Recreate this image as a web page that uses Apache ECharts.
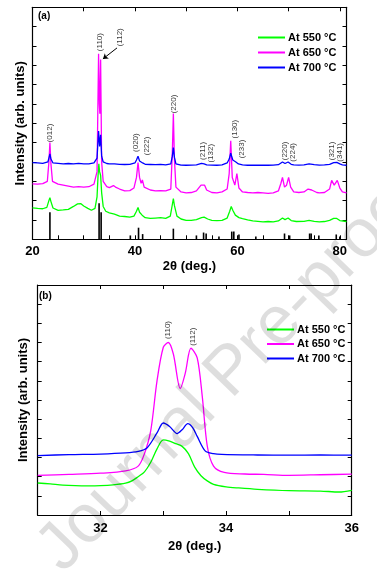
<!DOCTYPE html>
<html>
<head>
<meta charset="utf-8">
<script src="https://cdn.jsdelivr.net/npm/echarts@6/dist/echarts.min.js"></script>
<style>
    html, body { margin: 0; padding: 0; background: #fff; }
    #xrd { width: 377px; height: 571px; }
</style>
</head>
<body>
<div id="xrd"></div>
<script>
// legend names / colours
var sampleNames = ['At 550 °C', 'At 650 °C', 'At 700 °C'];
var sampleColors = ['#00ff00', '#ff00ff', '#0000ff'];

// (a) full pattern, [2theta, intensity] in arb. units (offset stacked)
var full550 = [[20,1.63],[21,1.6],[22,1.58],[22.8,1.65],[23.2,2.0],[23.4,2.15],[23.6,1.95],[24,1.62],[25,1.5],[26,1.52],[27,1.55],[28,1.7],[28.8,1.83],[29.4,1.85],[30,1.72],[30.8,1.6],[31.5,1.5],[32.2,1.6],[32.6,2.2],[32.8,3.3],[32.95,3.9],[33.1,3.5],[33.3,3.3],[33.5,2.4],[33.8,1.7],[34.3,1.45],[35,1.37],[36,1.3],[37,1.2],[38,1.18],[39,1.15],[39.8,1.2],[40.3,1.45],[40.6,1.65],[40.9,1.4],[41.4,1.25],[42,1.12],[43,1.08],[44,1.1],[45,1.12],[46,1.08],[46.9,1.2],[47.3,1.8],[47.5,2.1],[47.7,1.75],[48.2,1.2],[49,1.05],[50,0.98],[51,0.98],[52,1.02],[53,1.12],[53.5,1.15],[54.2,1.05],[55,0.98],[56,0.97],[57,0.98],[58,1.1],[58.5,1.45],[58.8,1.7],[59.1,1.5],[59.6,1.25],[60.3,1.12],[61,1.07],[62,1.0],[63,0.95],[64,0.93],[65,0.9],[66,0.92],[67,0.9],[68,0.95],[68.8,1.1],[69.3,1.02],[69.9,1.1],[70.5,0.97],[71.5,0.92],[73,0.93],[74,0.98],[75,0.93],[76,0.9],[77,0.92],[78,0.98],[78.8,1.08],[79.4,1.08],[80,0.97],[81.3,0.92]];
var full650 = [[20,2.87],[21,2.85],[22,2.88],[22.9,3.0],[23.2,4.0],[23.4,5.0],[23.6,3.9],[23.9,3.0],[25,2.85],[26,2.8],[27,2.75],[28,2.7],[29,2.72],[30,2.7],[31,2.72],[32,2.85],[32.6,3.5],[32.9,9.6],[33.05,7.0],[33.15,6.5],[33.3,9.3],[33.5,4.0],[33.8,3.0],[34.5,2.72],[35,2.67],[35.8,2.78],[36.2,2.7],[37,2.6],[38,2.5],[39,2.52],[39.8,2.65],[40.3,3.2],[40.6,3.97],[40.9,3.2],[41.2,2.9],[41.45,3.07],[41.8,2.7],[43,2.55],[44,2.5],[45,2.52],[46,2.5],[47,2.6],[47.3,4.5],[47.5,6.5],[47.7,4.2],[48,2.7],[49,2.45],[50,2.4],[51,2.42],[52,2.5],[52.9,2.8],[53.2,2.85],[53.6,2.8],[54,2.55],[55,2.42],[56,2.4],[57,2.45],[58,2.6],[58.4,3.4],[58.7,5.1],[59.0,3.2],[59.5,2.8],[59.9,3.4],[60.3,2.65],[61,2.45],[62,2.42],[63,2.4],[64,2.42],[65,2.4],[66,2.38],[67,2.4],[68,2.5],[68.5,2.9],[68.8,3.2],[69.2,2.7],[69.6,2.8],[70.0,3.2],[70.4,2.7],[71,2.45],[72,2.42],[73,2.45],[73.8,2.6],[74.5,2.55],[75.5,2.42],[76,2.4],[77,2.42],[78,2.6],[78.4,3.05],[78.9,2.8],[79.5,3.05],[80,2.65],[80.5,2.45],[81.3,2.4]];
var full700 = [[20,3.97],[21,3.95],[22,3.93],[23,4.0],[23.2,4.2],[23.4,4.42],[23.6,4.15],[24,3.95],[25,3.93],[26,3.9],[27,3.92],[28,3.9],[29,3.93],[30,3.9],[31,3.9],[32,3.95],[32.6,4.2],[32.9,5.6],[33.1,4.8],[33.3,5.4],[33.5,4.3],[33.8,4.0],[34.5,3.92],[35,3.9],[36,3.9],[37,3.88],[38,3.87],[39,3.88],[40,3.95],[40.3,4.1],[40.6,4.3],[40.9,4.05],[41.5,3.95],[42,3.88],[43,3.87],[44,3.86],[45,3.88],[46,3.85],[47,3.9],[47.3,4.3],[47.5,4.74],[47.7,4.25],[48,3.9],[49,3.84],[50,3.83],[51,3.84],[52,3.85],[53,3.93],[53.5,3.9],[54,3.85],[55,3.84],[56,3.83],[57,3.85],[58,3.95],[58.4,4.15],[58.7,4.45],[59.1,4.1],[59.7,4.0],[60.2,3.9],[61,3.85],[62,3.83],[63,3.84],[64,3.83],[65,3.84],[66,3.83],[67,3.84],[68,3.86],[68.8,4.0],[69.3,3.92],[69.9,4.0],[70.5,3.88],[71,3.85],[72,3.84],[73,3.85],[74,3.9],[75,3.86],[76,3.84],[77,3.85],[78,3.88],[78.8,3.97],[79.4,3.98],[80,3.9],[80.5,3.85],[81.3,3.83]];

// reference pattern sticks
var refLines = [[23.4,1.4],[33.0,1.87],[33.4,1.4],[39.1,0.2],[40.7,0.6],[41.5,0.27],[47.5,0.55],[52.0,0.2],[53.4,0.35],[53.9,0.3],[56.4,0.15],[58.9,0.4],[59.3,0.4],[60.3,0.25],[63.6,0.15],[69.2,0.3],[70.2,0.2],[74.1,0.3],[74.4,0.3],[75.9,0.2],[79.3,0.25],[80.0,0.15]];

// hkl labels (a): [2theta, level, text]
var hklFull = [[23.4,5.5,'(012)'],[33.15,10.2,'(110)'],[37.1,10.45,'(112)'],[40.2,5.0,'(020)'],[42.3,4.83,'(222)'],[47.6,7.0,'(220)'],[53.3,4.57,'(211)'],[54.8,4.45,'(132)'],[59.5,5.7,'(130)'],[60.8,4.67,'(233)'],[69.3,4.57,'(220)'],[70.8,4.5,'(224)'],[78.4,4.57,'(321)'],[80.0,4.5,'(341)']];

// (b) zoom on 31-36 deg
var zoom550 = [[31,1.67],[31.2,1.62],[31.4,1.56],[31.6,1.53],[31.8,1.52],[32,1.53],[32.2,1.57],[32.4,1.66],[32.5,1.78],[32.6,2.0],[32.7,2.25],[32.8,2.75],[32.9,3.45],[33.0,3.92],[33.1,3.85],[33.2,3.72],[33.3,3.58],[33.4,3.2],[33.5,2.5],[33.6,2.05],[33.7,1.78],[33.8,1.6],[34,1.47],[34.2,1.41],[34.5,1.34],[35,1.27],[35.5,1.25],[35.8,1.2],[36,1.29]];
var zoom650 = [[31,2.07],[31.5,2.12],[32,2.18],[32.4,2.3],[32.6,2.55],[32.7,3.2],[32.8,4.4],[32.9,7.0],[33.0,8.75],[33.08,9.0],[33.16,8.4],[33.27,6.6],[33.35,7.4],[33.44,8.7],[33.54,8.2],[33.62,6.2],[33.7,3.6],[33.8,2.55],[33.97,2.22],[34.3,2.14],[34.6,2.12],[35,2.07],[35.5,2.1],[36,2.13]];
var zoom700 = [[31,3.1],[31.5,3.15],[32,3.18],[32.4,3.24],[32.6,3.32],[32.74,3.5],[32.9,4.28],[33.0,4.8],[33.1,4.62],[33.22,4.25],[33.3,4.45],[33.39,4.77],[33.47,4.55],[33.54,4.1],[33.67,3.33],[33.8,3.2],[33.93,3.16],[34.5,3.13],[35,3.12],[35.5,3.13],[36,3.12]];

var hklZoom = [[33.07,9.65,'(110)'],[33.47,9.3,'(112)']];

var axisFont = { color: '#000', fontFamily: 'Liberation Sans', fontWeight: 'bold', fontSize: 13 };

function frameAxis(extra) {
    return Object.assign({
        type: 'value',
        axisLine: { show: true, onZero: false, lineStyle: { color: '#000', width: 1.2 } },
        axisTick: { show: true, inside: true, length: 4, lineStyle: { color: '#000' } },
        axisLabel: { show: false },
        splitLine: { show: false }
    }, extra);
}

function curve(name, color, data, xi, smooth) {
    return {
        name: name, type: 'line', xAxisIndex: xi, yAxisIndex: xi,
        data: data, showSymbol: false, symbol: 'none', smooth: smooth,
        lineStyle: { color: color, width: 1.3 }, itemStyle: { color: color },
        z: 3
    };
}

function hklSeries(data, xi) {
    return {
        type: 'scatter', xAxisIndex: xi, yAxisIndex: xi, data: data,
        symbolSize: 1, itemStyle: { color: 'transparent' }, z: 5,
        label: {
            show: true, position: 'inside', rotate: 90,
            formatter: function (p) { return p.data[2]; },
            fontFamily: 'Liberation Sans', fontSize: 8, color: '#000'
        }
    };
}

function legendAt(left, top, gap) {
    return {
        data: sampleNames, orient: 'vertical', left: left, top: top,
        icon: 'rect', itemWidth: 27, itemHeight: 2, itemGap: gap,
        selectedMode: false,
        textStyle: { color: '#000', fontFamily: 'Liberation Sans', fontWeight: 'bold', fontSize: 11, padding: [0, 0, 0, -2] }
    };
}

var option = {
    animation: false,
    backgroundColor: '#fff',
    grid: [
        { left: 32.5, top: 7.3, width: 314, height: 232 },
        { left: 37.7, top: 285, width: 314, height: 230 }
    ],
    legend: [legendAt(253, 27, 4), legendAt(262, 319, 3.5)],
    xAxis: [
        frameAxis({
            gridIndex: 0, min: 20, max: 81.3, interval: 5, position: 'bottom',
            name: '2θ (deg.)', nameLocation: 'middle', nameGap: 21, nameTextStyle: axisFont,
            axisLabel: { show: true, margin: 6, formatter: function (v) { return v % 20 === 0 ? String(v) : ''; },
                color: '#000', fontFamily: 'Liberation Sans', fontWeight: 'bold', fontSize: 13 }
        }),
        frameAxis({ gridIndex: 0, min: 20, max: 81.3, interval: 10, position: 'top' }),
        frameAxis({
            gridIndex: 1, min: 31, max: 36, interval: 1, position: 'bottom',
            name: '2θ (deg.)', nameLocation: 'middle', nameGap: 25, nameTextStyle: axisFont,
            axisLabel: { show: true, margin: 6.5, formatter: function (v) { return v % 2 === 0 ? String(v) : ''; },
                color: '#000', fontFamily: 'Liberation Sans', fontWeight: 'bold', fontSize: 13 }
        }),
        frameAxis({ gridIndex: 1, min: 31, max: 36, interval: 1, position: 'top' })
    ],
    yAxis: [
        frameAxis({
            gridIndex: 0, min: 0, max: 12, interval: 1, position: 'left',
            name: 'Intensity (arb. units)', nameLocation: 'middle', nameGap: 6, nameTextStyle: axisFont
        }),
        frameAxis({ gridIndex: 0, min: 0, max: 12, interval: 1, position: 'right' }),
        frameAxis({
            gridIndex: 1, min: 0, max: 12, interval: 1, position: 'left',
            name: 'Intensity (arb. units)', nameLocation: 'middle', nameGap: 8, nameTextStyle: axisFont
        }),
        frameAxis({ gridIndex: 1, min: 0, max: 12, interval: 1, position: 'right' })
    ],
    series: [
        {
            name: 'reference', type: 'bar', xAxisIndex: 0, yAxisIndex: 0,
            data: refLines, barWidth: 1.6, itemStyle: { color: '#000' }, z: 2
        },
        curve(sampleNames[0], sampleColors[0], full550, 0, false),
        curve(sampleNames[1], sampleColors[1], full650, 0, false),
        curve(sampleNames[2], sampleColors[2], full700, 0, false),
        hklSeries(hklFull, 0),
        curve(sampleNames[0], sampleColors[0], zoom550, 2, 0.3),
        curve(sampleNames[1], sampleColors[1], zoom650, 2, 0.3),
        curve(sampleNames[2], sampleColors[2], zoom700, 2, 0.3),
        hklSeries(hklZoom, 2)
    ],
    graphic: [
        { type: 'text', left: 38, top: 11, style: { text: '(a)', fill: '#000', font: 'bold 10px "Liberation Sans"' } },
        { type: 'text', left: 39, top: 291, style: { text: '(b)', fill: '#000', font: 'bold 10px "Liberation Sans"' } },
        {
            // watermark
            type: 'text', x: 232, y: 372, rotation: 46 * Math.PI / 180, z: 100, silent: true,
            style: { text: 'Journal Pre-proof', fill: 'rgba(0,0,0,0.13)', font: '68px "Liberation Sans"',
                align: 'center', verticalAlign: 'middle' }
        }
    ]
};

// arrow for (112) in panel (a)
option.series[2].markLine = {
    silent: true, symbol: ['none', 'arrow'], symbolSize: 5,
    lineStyle: { color: '#000', width: 1, type: 'solid' }, label: { show: false },
    data: [[{ coord: [36.5, 9.9] }, { coord: [33.75, 9.33] }]]
};

var chart = echarts.init(document.getElementById('xrd'));
chart.setOption(option);
</script>
</body>
</html>
